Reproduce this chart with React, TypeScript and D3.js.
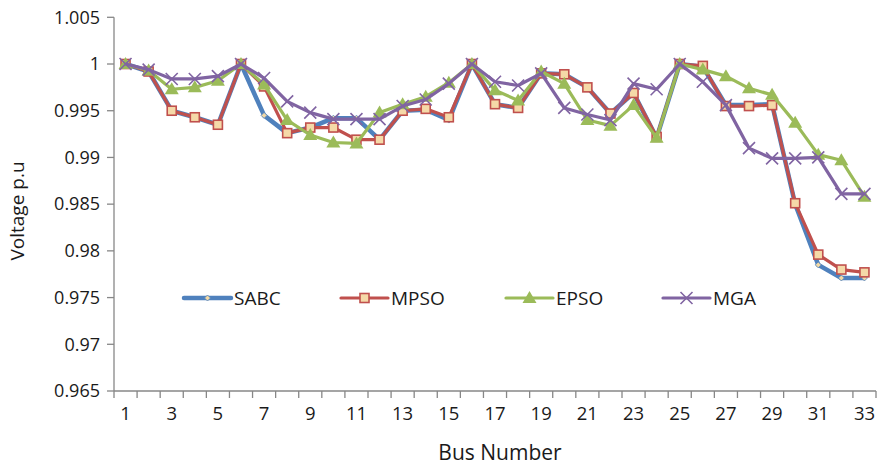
import * as d3 from "d3";

// bus numbers 1..33
const buses: number[] = d3.range(1, 34);

const sabc = [1.0, 0.9992, 0.9950, 0.9943, 0.9935, 1.0, 0.9945, 0.9926, 0.9932, 0.9942, 0.9942, 0.9919, 0.9950, 0.9951, 0.9940, 1.0, 0.9957, 0.9953, 0.9990, 0.9989, 0.9975, 0.9947, 0.9969, 0.9921, 1.0, 0.9997, 0.9956, 0.9956, 0.9957, 0.9850, 0.9785, 0.9771, 0.9771];
const mpso = [1.0, 0.9992, 0.9950, 0.9943, 0.9935, 1.0, 0.9976, 0.9926, 0.9932, 0.9932, 0.9919, 0.9919, 0.9950, 0.9952, 0.9943, 1.0, 0.9957, 0.9953, 0.9990, 0.9989, 0.9975, 0.9947, 0.9969, 0.9922, 1.0, 0.9998, 0.9955, 0.9955, 0.9956, 0.9851, 0.9796, 0.9780, 0.9777];
const epso = [1.0, 0.9993, 0.9973, 0.9975, 0.9982, 1.0, 0.9978, 0.9940, 0.9924, 0.9916, 0.9915, 0.9948, 0.9957, 0.9965, 0.9980, 1.0, 0.9972, 0.9961, 0.9992, 0.9979, 0.9940, 0.9934, 0.9956, 0.9921, 1.0, 0.9994, 0.9987, 0.9974, 0.9967, 0.9937, 0.9903, 0.9897, 0.9858];
const mga = [1.0, 0.9994, 0.9984, 0.9984, 0.9987, 1.0, 0.9985, 0.9960, 0.9948, 0.9941, 0.9941, 0.9941, 0.9955, 0.9962, 0.9979, 1.0, 0.9981, 0.9977, 0.9990, 0.9953, 0.9946, 0.9940, 0.9979, 0.9973, 1.0, 0.9981, 0.9956, 0.9910, 0.9899, 0.9899, 0.9900, 0.9861, 0.9861];

const yTicks = [0.965, 0.97, 0.975, 0.98, 0.985, 0.99, 0.995, 1, 1.005];
const xTickLabels = buses.filter((b) => b % 2 === 1);

const seriesNames = ["SABC", "MPSO", "EPSO", "MGA"];
const seriesColors = ["#4F81BD", "#C0504D", "#9BBB59", "#8064A2"];

const W = 879;
const H = 466;
const axisColor = "#878787";
const font = "'Open Sans', 'Liberation Sans', sans-serif";
const narrow = "'Liberation Sans Narrow', 'Open Sans', sans-serif";

function Marker({ kind, x, y, color }: { kind: string; x: number; y: number; color: string }) {
  if (kind === "SABC") {
    return <path d={`M${x},${y - 3}L${x + 3},${y}L${x},${y + 3}L${x - 3},${y}Z`} fill="#F2D9A6" stroke={color} strokeWidth={0.8} />;
  }
  if (kind === "MPSO") {
    return <rect x={x - 4.5} y={y - 4.5} width={9} height={9} fill="#F5D9A8" stroke={color} strokeWidth={1.6} />;
  }
  if (kind === "EPSO") {
    return <path d={`M${x},${y - 7}L${x + 7},${y + 5}L${x - 7},${y + 5}Z`} fill={color} />;
  }
  return (
    <path d={`M${x - 6},${y - 6}L${x + 6},${y + 6}M${x - 6},${y + 6}L${x + 6},${y - 6}`} stroke={color} strokeWidth={1.6} fill="none" />
  );
}

export default function App() {
  const x = d3.scaleBand<number>().domain(buses).range([114, 876]).padding(0);
  const y = d3.scaleLinear().domain([0.965, 1.005]).range([391, 17.3]);
  const cx = (b: number) => x(b)! + x.bandwidth() / 2;

  const line = d3
    .line<number>()
    .x((_, i) => cx(buses[i]))
    .y((d) => y(d));

  const allSeries = [sabc, mpso, epso, mga];
  const widths = [4.5, 3.2, 3.2, 3.2];

  const legendX = [184, 341, 506, 663];
  const legendY = 298;

  return (
    <svg width={W} height={H} style={{ position: "absolute", left: 0, top: 0, background: "#fff" }}>
      {/* y axis */}
      <line x1={114} x2={114} y1={y(1.005)} y2={y(0.965)} stroke={axisColor} strokeWidth={1.3} />
      {yTicks.map((t) => (
        <g key={t}>
          <line x1={107} x2={114} y1={y(t)} y2={y(t)} stroke={axisColor} strokeWidth={1.3} />
          <text x={100} y={y(t)} dy="0.35em" textAnchor="end" fontFamily={font} fontSize={18} fill="#1a1a1a">
            {d3.format("")(+t.toFixed(3))}
          </text>
        </g>
      ))}
      {/* x axis */}
      <line x1={114} x2={876} y1={391} y2={391} stroke={axisColor} strokeWidth={1.3} />
      {buses.concat([34]).map((b, i) => {
        const px = 114 + i * x.bandwidth();
        return <line key={b} x1={px} x2={px} y1={391} y2={398} stroke={axisColor} strokeWidth={1.3} />;
      })}
      {xTickLabels.map((b) => (
        <text key={b} x={cx(b)} y={420} textAnchor="middle" fontFamily={narrow} fontSize={18.5} fill="#1a1a1a">
          {b}
        </text>
      ))}
      <text x={500} y={460} textAnchor="middle" fontFamily={narrow} fontSize={21} fill="#1a1a1a">
        Bus Number
      </text>
      <text transform="translate(24,211) rotate(-90)" textAnchor="middle" fontFamily={font} fontSize={19} fill="#1a1a1a">
        Voltage p.u
      </text>

      {/* series */}
      {allSeries.map((s, si) => (
        <g key={seriesNames[si]}>
          <path d={line(s)!} fill="none" stroke={seriesColors[si]} strokeWidth={widths[si]} strokeLinejoin="round" />
          {s.map((v, i) => (
            <Marker key={i} kind={seriesNames[si]} x={cx(buses[i])} y={y(v)} color={seriesColors[si]} />
          ))}
        </g>
      ))}

      {/* legend */}
      {seriesNames.map((n, i) => (
        <g key={n}>
          <line x1={legendX[i]} x2={legendX[i] + 47} y1={legendY} y2={legendY} stroke={seriesColors[i]} strokeWidth={widths[i]} strokeLinecap="round" />
          <Marker kind={n} x={legendX[i] + 23.5} y={legendY} color={seriesColors[i]} />
          <text x={legendX[i] + 50} y={legendY} dy="0.35em" fontFamily={font} fontSize={19} fill="#1a1a1a">
            {n}
          </text>
        </g>
      ))}
    </svg>
  );
}
